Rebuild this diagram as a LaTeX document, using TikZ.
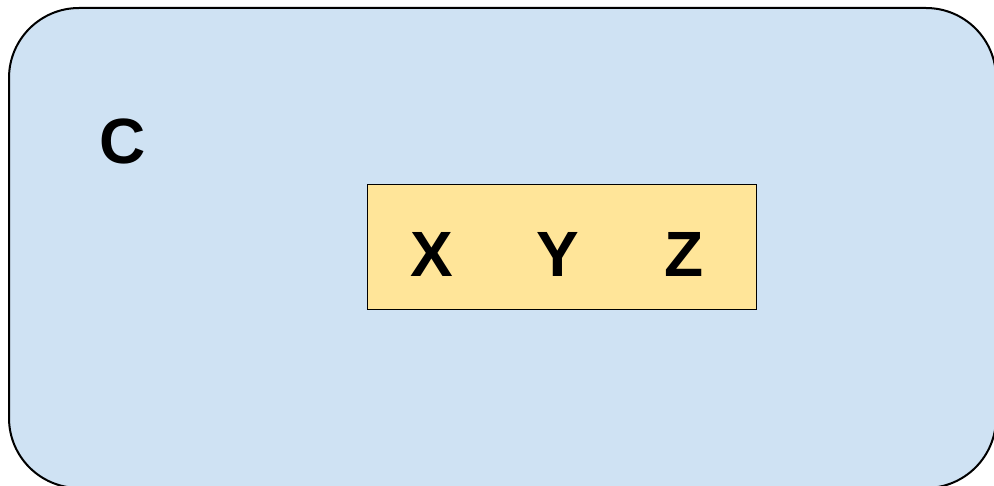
\documentclass[tikz,border=0pt]{standalone}
\usepackage{fontspec}
\setmainfont{Liberation Sans}
\definecolor{outerfill}{HTML}{CFE2F3}
\definecolor{innerfill}{HTML}{FFE599}
\begin{document}
\begin{tikzpicture}[x=1pt,y=-1pt,
  letter/.style={font=\fontsize{64}{70}\selectfont\bfseries, inner sep=0pt, anchor=base}]
\useasboundingbox (0,0) rectangle (994,486);
\begin{scope}
\clip (0,0) rectangle (994,486);
\node[draw=black, line width=2pt, fill=outerfill, rounded corners=70pt,
  minimum width=987pt, minimum height=480pt, inner sep=0pt, anchor=north west] (outer) at (8,7) {};
\end{scope}
\node[draw=black, line width=1.3pt, fill=innerfill, minimum width=389pt, minimum height=125pt,
  inner sep=0pt, anchor=north west] (inner) at (367,184) {};
\node[letter] (c) at (123,164) {C};
\node[letter] (x) at (432,277) {X};
\node[letter] (y) at (558,277) {Y};
\node[letter] (z) at (684,277) {Z};
\end{tikzpicture}
\end{document}
